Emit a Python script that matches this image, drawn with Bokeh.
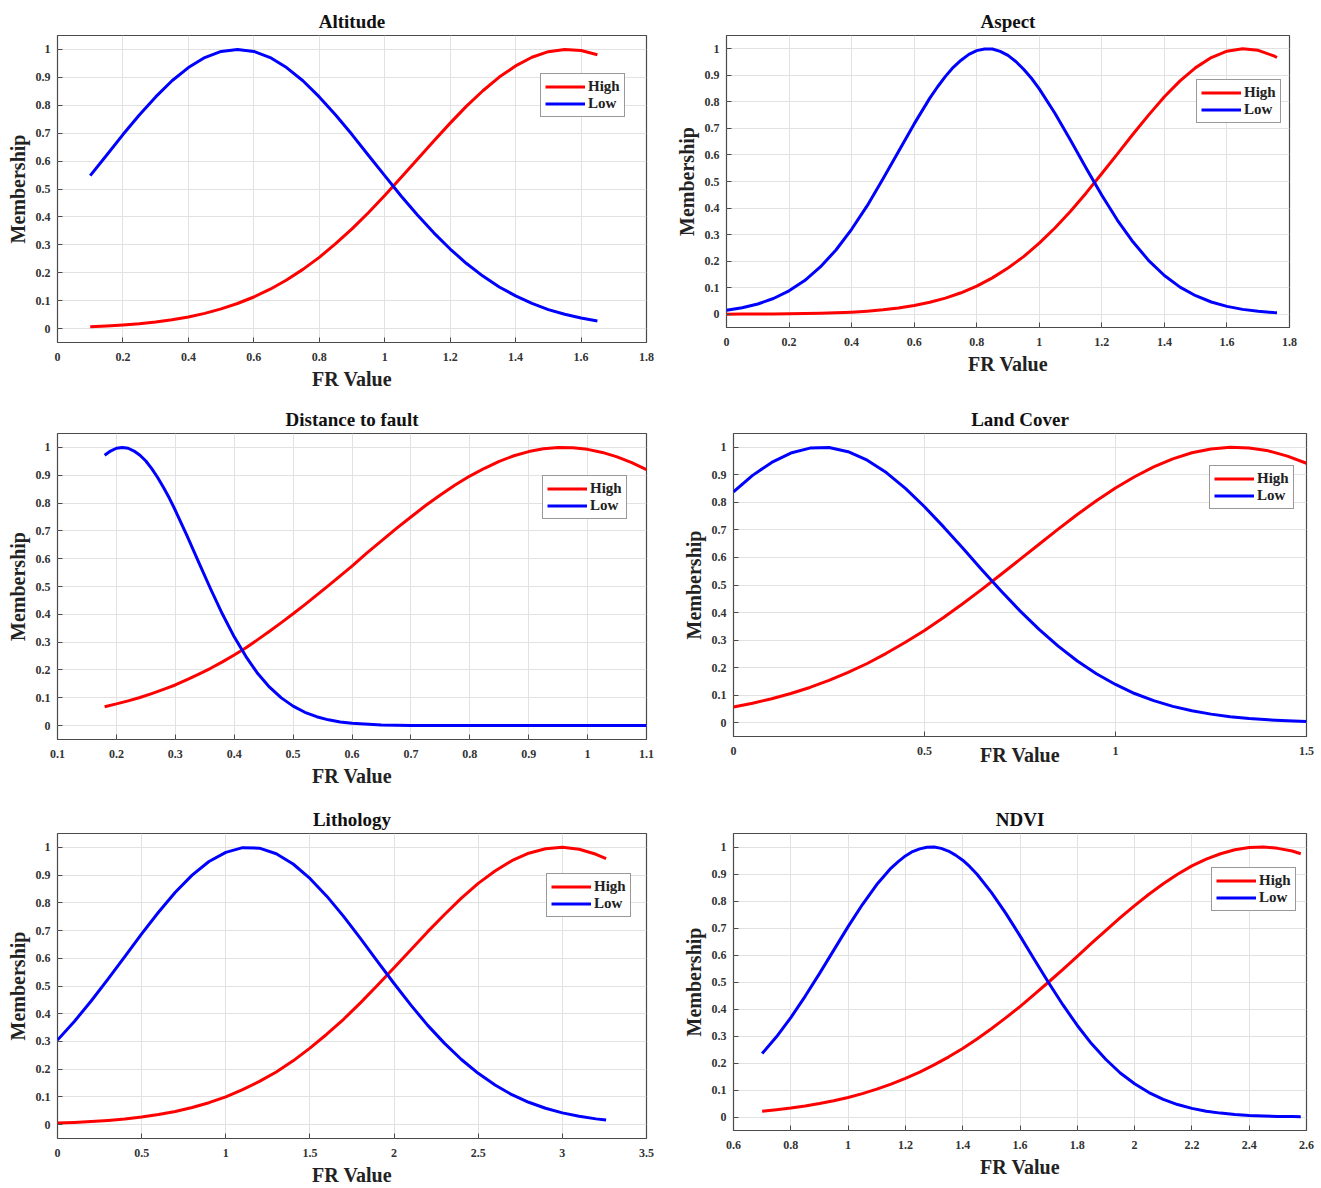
from bokeh.plotting import figure
from bokeh.layouts import column, row
from bokeh.models import Range1d, FixedTicker, CustomJSTickFormatter, Legend, LegendItem
from bokeh.embed import file_html
from bokeh.resources import INLINE

# ---------------- data ----------------
titles = ["Altitude", "Aspect", "Distance to fault", "Land Cover", "Lithology", "NDVI"]
series_names = ["High", "Low"]

altitude_x = [0.10, 0.15, 0.20, 0.25, 0.30, 0.35, 0.40, 0.45, 0.50, 0.55, 0.60, 0.65, 0.70, 0.75, 0.80, 0.85,
              0.90, 0.95, 1.00, 1.05, 1.10, 1.15, 1.20, 1.25, 1.30, 1.35, 1.40, 1.45, 1.50, 1.55, 1.60, 1.65]
altitude_high = [0.0065, 0.0091, 0.0126, 0.0173, 0.0235, 0.0314, 0.0416, 0.0544, 0.0703, 0.0898, 0.113, 0.141,
                 0.174, 0.212, 0.255, 0.304, 0.357, 0.415, 0.477, 0.541, 0.607, 0.672, 0.736, 0.797, 0.852, 0.901,
                 0.941, 0.972, 0.992, 1.000, 0.996, 0.981]
altitude_low = [0.548, 0.621, 0.695, 0.765, 0.830, 0.888, 0.935, 0.971, 0.993, 1.000, 0.993, 0.971, 0.935, 0.888,
                0.830, 0.765, 0.695, 0.621, 0.548, 0.475, 0.407, 0.343, 0.285, 0.233, 0.188, 0.149, 0.117, 0.090,
                0.068, 0.051, 0.038, 0.027]

aspect_high_x = [0.00, 0.05, 0.10, 0.15, 0.20, 0.25, 0.30, 0.35, 0.40, 0.45, 0.50, 0.55, 0.60, 0.65, 0.70, 0.75,
                 0.80, 0.85, 0.90, 0.95, 1.00, 1.05, 1.10, 1.15, 1.20, 1.25, 1.30, 1.35, 1.40, 1.45, 1.50, 1.55,
                 1.60, 1.65, 1.70, 1.75, 1.76]
aspect_high = [0.0002, 0.0004, 0.0006, 0.0010, 0.0015, 0.0023, 0.0036, 0.0054, 0.0079, 0.0116, 0.0166, 0.0235,
               0.0328, 0.0450, 0.0607, 0.0808, 0.106, 0.137, 0.174, 0.217, 0.268, 0.325, 0.388, 0.457, 0.530, 0.604,
               0.679, 0.751, 0.819, 0.879, 0.929, 0.967, 0.991, 1.000, 0.994, 0.973, 0.967]
aspect_low_x = [0.00, 0.05, 0.10, 0.15, 0.20, 0.25, 0.30, 0.35, 0.40, 0.45, 0.50, 0.55, 0.60, 0.65, 0.675, 0.70,
                0.725, 0.75, 0.775, 0.80, 0.825, 0.85, 0.875, 0.90, 0.925, 0.95, 0.975, 1.00, 1.05, 1.10, 1.15,
                1.20, 1.25, 1.30, 1.35, 1.40, 1.45, 1.50, 1.55, 1.60, 1.65, 1.70, 1.75, 1.76]
aspect_low = [0.0150, 0.0244, 0.0386, 0.0592, 0.0881, 0.127, 0.178, 0.242, 0.320, 0.409, 0.509, 0.613, 0.717, 0.814,
              0.857, 0.896, 0.930, 0.957, 0.979, 0.993, 0.999, 0.999, 0.990, 0.975, 0.952, 0.923, 0.889, 0.849,
              0.757, 0.655, 0.550, 0.448, 0.354, 0.272, 0.202, 0.146, 0.102, 0.0697, 0.0460, 0.0295, 0.0183,
              0.0110, 0.0064, 0.0058]

fault_high_x = [0.18, 0.20, 0.22, 0.24, 0.26, 0.28, 0.30, 0.32, 0.34, 0.36, 0.38, 0.40, 0.42, 0.44, 0.46, 0.48,
                0.50, 0.52, 0.54, 0.56, 0.58, 0.60, 0.625, 0.65, 0.675, 0.70, 0.725, 0.75, 0.775, 0.80, 0.825, 0.85,
                0.875, 0.90, 0.925, 0.95, 0.975, 1.00, 1.025, 1.05, 1.075, 1.10]
fault_high = [0.068, 0.078, 0.089, 0.101, 0.115, 0.130, 0.146, 0.165, 0.185, 0.206, 0.229, 0.254, 0.280, 0.309,
              0.339, 0.370, 0.402, 0.435, 0.469, 0.503, 0.538, 0.573, 0.620, 0.664, 0.708, 0.750, 0.791, 0.829,
              0.865, 0.897, 0.925, 0.950, 0.970, 0.985, 0.995, 1.000, 0.999, 0.993, 0.982, 0.966, 0.945, 0.920]
fault_low_x = [0.18, 0.19, 0.20, 0.21, 0.22, 0.23, 0.24, 0.25, 0.26, 0.27, 0.28, 0.29, 0.30, 0.32, 0.34, 0.36, 0.38,
               0.40, 0.42, 0.44, 0.46, 0.48, 0.50, 0.52, 0.54, 0.56, 0.58, 0.60, 0.65, 0.70, 0.75, 0.80, 0.90, 1.00,
               1.10]
fault_low = [0.972, 0.987, 0.997, 1.000, 0.997, 0.987, 0.972, 0.951, 0.924, 0.892, 0.856, 0.817, 0.774, 0.682,
             0.586, 0.491, 0.401, 0.319, 0.248, 0.187, 0.138, 0.0996, 0.0700, 0.0478, 0.0319, 0.0207, 0.0131,
             0.0081, 0.0022, 0.0005, 0.0001, 0.0, 0.0, 0.0, 0.0]

landcover_x = [0.00, 0.05, 0.10, 0.15, 0.20, 0.25, 0.30, 0.35, 0.40, 0.45, 0.50, 0.55, 0.60, 0.65, 0.70, 0.75, 0.80,
               0.85, 0.90, 0.95, 1.00, 1.05, 1.10, 1.15, 1.20, 1.25, 1.30, 1.35, 1.40, 1.45, 1.50]
landcover_high = [0.0573, 0.0709, 0.0872, 0.106, 0.128, 0.154, 0.183, 0.215, 0.252, 0.292, 0.335, 0.382, 0.432,
                  0.484, 0.538, 0.593, 0.648, 0.703, 0.756, 0.806, 0.852, 0.893, 0.929, 0.958, 0.980, 0.994, 1.000,
                  0.997, 0.987, 0.968, 0.942]
landcover_low = [0.838, 0.898, 0.945, 0.979, 0.997, 0.999, 0.984, 0.953, 0.908, 0.851, 0.784, 0.711, 0.634, 0.555,
                 0.479, 0.406, 0.339, 0.278, 0.224, 0.178, 0.139, 0.106, 0.0802, 0.0595, 0.0434, 0.0312, 0.0220,
                 0.0153, 0.0104, 0.0070, 0.0046]

lithology_x = [0.0, 0.1, 0.2, 0.3, 0.4, 0.5, 0.6, 0.7, 0.8, 0.9, 1.0, 1.1, 1.2, 1.3, 1.4, 1.5, 1.6, 1.7, 1.8, 1.9,
               2.0, 2.1, 2.2, 2.3, 2.4, 2.5, 2.6, 2.7, 2.8, 2.9, 3.0, 3.1, 3.2, 3.26]
lithology_high = [0.0056, 0.0078, 0.0109, 0.0150, 0.0203, 0.0273, 0.0363, 0.0476, 0.0617, 0.0791, 0.100, 0.126,
                  0.156, 0.190, 0.230, 0.276, 0.326, 0.380, 0.439, 0.502, 0.566, 0.631, 0.696, 0.758, 0.817, 0.870,
                  0.915, 0.952, 0.979, 0.995, 1.000, 0.993, 0.975, 0.959]
lithology_low = [0.305, 0.372, 0.446, 0.525, 0.606, 0.688, 0.766, 0.838, 0.900, 0.949, 0.982, 0.999, 0.997, 0.977,
                 0.940, 0.888, 0.824, 0.751, 0.672, 0.590, 0.509, 0.431, 0.358, 0.293, 0.235, 0.185, 0.143, 0.108,
                 0.0807, 0.0591, 0.0425, 0.0300, 0.0208, 0.0165]

ndvi_high_x = [0.70, 0.75, 0.80, 0.85, 0.90, 0.95, 1.00, 1.05, 1.10, 1.15, 1.20, 1.25, 1.30, 1.35, 1.40, 1.45, 1.50,
               1.55, 1.60, 1.65, 1.70, 1.75, 1.80, 1.85, 1.90, 1.95, 2.00, 2.05, 2.10, 2.15, 2.20, 2.25, 2.30, 2.35,
               2.40, 2.45, 2.50, 2.55, 2.58]
ndvi_high = [0.0217, 0.0269, 0.0332, 0.0408, 0.0497, 0.0602, 0.0724, 0.0866, 0.103, 0.122, 0.143, 0.166, 0.193,
             0.222, 0.254, 0.289, 0.327, 0.367, 0.409, 0.454, 0.500, 0.547, 0.595, 0.644, 0.691, 0.738, 0.783, 0.825,
             0.864, 0.899, 0.930, 0.955, 0.975, 0.990, 0.998, 1.000, 0.995, 0.985, 0.975]
ndvi_low_x = [0.70, 0.75, 0.80, 0.85, 0.90, 0.95, 1.00, 1.05, 1.10, 1.15, 1.175, 1.20, 1.225, 1.25, 1.275, 1.30,
              1.325, 1.35, 1.375, 1.40, 1.425, 1.45, 1.50, 1.55, 1.60, 1.65, 1.70, 1.75, 1.80, 1.85, 1.90, 1.95,
              2.00, 2.05, 2.10, 2.15, 2.20, 2.25, 2.30, 2.35, 2.40, 2.45, 2.50, 2.55, 2.58]
ndvi_low = [0.235, 0.297, 0.368, 0.447, 0.531, 0.618, 0.705, 0.787, 0.861, 0.922, 0.946, 0.967, 0.983, 0.993, 0.999,
            1.000, 0.995, 0.985, 0.970, 0.951, 0.927, 0.899, 0.832, 0.755, 0.671, 0.583, 0.497, 0.415, 0.339,
            0.271, 0.213, 0.163, 0.123, 0.0904, 0.0653, 0.0461, 0.0320, 0.0216, 0.0144, 0.0093, 0.0059, 0.0037,
            0.0023, 0.0014, 0.0010]

altitude_ticks = [0, 0.2, 0.4, 0.6, 0.8, 1.0, 1.2, 1.4, 1.6, 1.8]
aspect_ticks = [0, 0.2, 0.4, 0.6, 0.8, 1.0, 1.2, 1.4, 1.6, 1.8]
fault_ticks = [0.1, 0.2, 0.3, 0.4, 0.5, 0.6, 0.7, 0.8, 0.9, 1.0, 1.1]
landcover_ticks = [0, 0.5, 1.0, 1.5]
lithology_ticks = [0, 0.5, 1.0, 1.5, 2.0, 2.5, 3.0, 3.5]
ndvi_ticks = [0.6, 0.8, 1.0, 1.2, 1.4, 1.6, 1.8, 2.0, 2.2, 2.4, 2.6]
membership_ticks = [0, 0.1, 0.2, 0.3, 0.4, 0.5, 0.6, 0.7, 0.8, 0.9, 1.0]

FONT = "Liberation Serif"
GRID = "#e2e2e2"
FRAME = "#4a4a4a"


def make_panel(title, xh, high, xl, low, xticks, w, h, borders, legend_xy, xlabel_standoff=4):
    left, right, top, bottom = borders
    p = figure(width=w, height=h, x_range=Range1d(xticks[0], xticks[-1]), y_range=Range1d(-0.05, 1.05),
               output_backend="svg", toolbar_location=None,
               min_border_left=left, min_border_right=right, min_border_top=top, min_border_bottom=bottom)
    p.title.text = title
    p.title.align = "center"
    p.title.text_font = FONT
    p.title.text_font_size = "19px"
    p.title.text_font_style = "bold"
    p.title.text_color = "#111111"
    p.title.standoff = 8

    p.xaxis.ticker = FixedTicker(ticks=xticks)
    p.yaxis.ticker = FixedTicker(ticks=membership_ticks)
    p.xaxis.formatter = CustomJSTickFormatter(code="return Number(tick.toFixed(3)).toString();")
    p.yaxis.formatter = CustomJSTickFormatter(code="return Number(tick.toFixed(3)).toString();")
    for ax in (p.xaxis[0], p.yaxis[0]):
        ax.axis_line_color = None
        ax.major_tick_in = 5
        ax.major_tick_out = 0
        ax.major_tick_line_color = FRAME
        ax.minor_tick_line_color = None
        ax.major_label_text_font = FONT
        ax.major_label_text_font_style = "bold"
        ax.major_label_text_font_size = "12px"
        ax.major_label_text_color = "#333333"
        ax.axis_label_text_font = FONT
        ax.axis_label_text_font_style = "bold"
        ax.axis_label_text_font_size = "20px"
        ax.axis_label_text_color = "#222222"
    p.xaxis.axis_label = "FR Value"
    p.yaxis.axis_label = "Membership"
    p.xaxis.major_label_standoff = 10
    p.yaxis.major_label_standoff = 7
    p.xaxis.axis_label_standoff = xlabel_standoff
    p.yaxis.axis_label_standoff = 4

    p.xgrid.grid_line_color = GRID
    p.ygrid.grid_line_color = GRID
    p.outline_line_color = FRAME
    p.outline_line_width = 1.2

    rh = p.line(xh, high, line_color="#ff0000", line_width=3, line_join="round")
    rl = p.line(xl, low, line_color="#0000ff", line_width=3, line_join="round")

    legend = Legend(items=[LegendItem(label=series_names[0], renderers=[rh]),
                           LegendItem(label=series_names[1], renderers=[rl])],
                    location=legend_xy)
    legend.label_text_font = FONT
    legend.label_text_font_style = "bold"
    legend.label_text_font_size = "15px"
    legend.label_text_color = "#222222"
    legend.glyph_width = 40
    legend.glyph_height = 17
    legend.label_height = 17
    legend.label_standoff = 3
    legend.padding = 4
    legend.spacing = 0
    legend.margin = 0
    legend.border_line_color = "#333333"
    legend.border_line_width = 1
    legend.background_fill_color = "white"
    legend.background_fill_alpha = 1.0
    p.add_layout(legend)
    return p


pA = make_panel(titles[0], altitude_x, altitude_high, altitude_x, altitude_low, altitude_ticks,
                660, 398, (57, 14, 35, 56), (483, 225))
pB = make_panel(titles[1], aspect_high_x, aspect_high, aspect_low_x, aspect_low, aspect_ticks,
                661, 383, (66, 32, 35, 56), (470, 204))
pC = make_panel(titles[2], fault_high_x, fault_high, fault_low_x, fault_low, fault_ticks,
                660, 400, (57, 14, 35, 59), (485, 220))
pD = make_panel(titles[3], landcover_x, landcover_high, landcover_x, landcover_low, landcover_ticks,
                661, 397, (73, 15, 35, 59), (476, 227), xlabel_standoff=-14)
pE = make_panel(titles[4], lithology_x, lithology_high, lithology_x, lithology_low, lithology_ticks,
                660, 390, (57, 14, 35, 48), (489, 221))
pF = make_panel(titles[5], ndvi_high_x, ndvi_high, ndvi_low_x, ndvi_low, ndvi_ticks,
                661, 382, (73, 15, 35, 48), (478, 219))

layout = column(row(pA, pB), row(pC, pD), row(pE, pF))

open("out.html", "w").write(file_html(layout, INLINE))
